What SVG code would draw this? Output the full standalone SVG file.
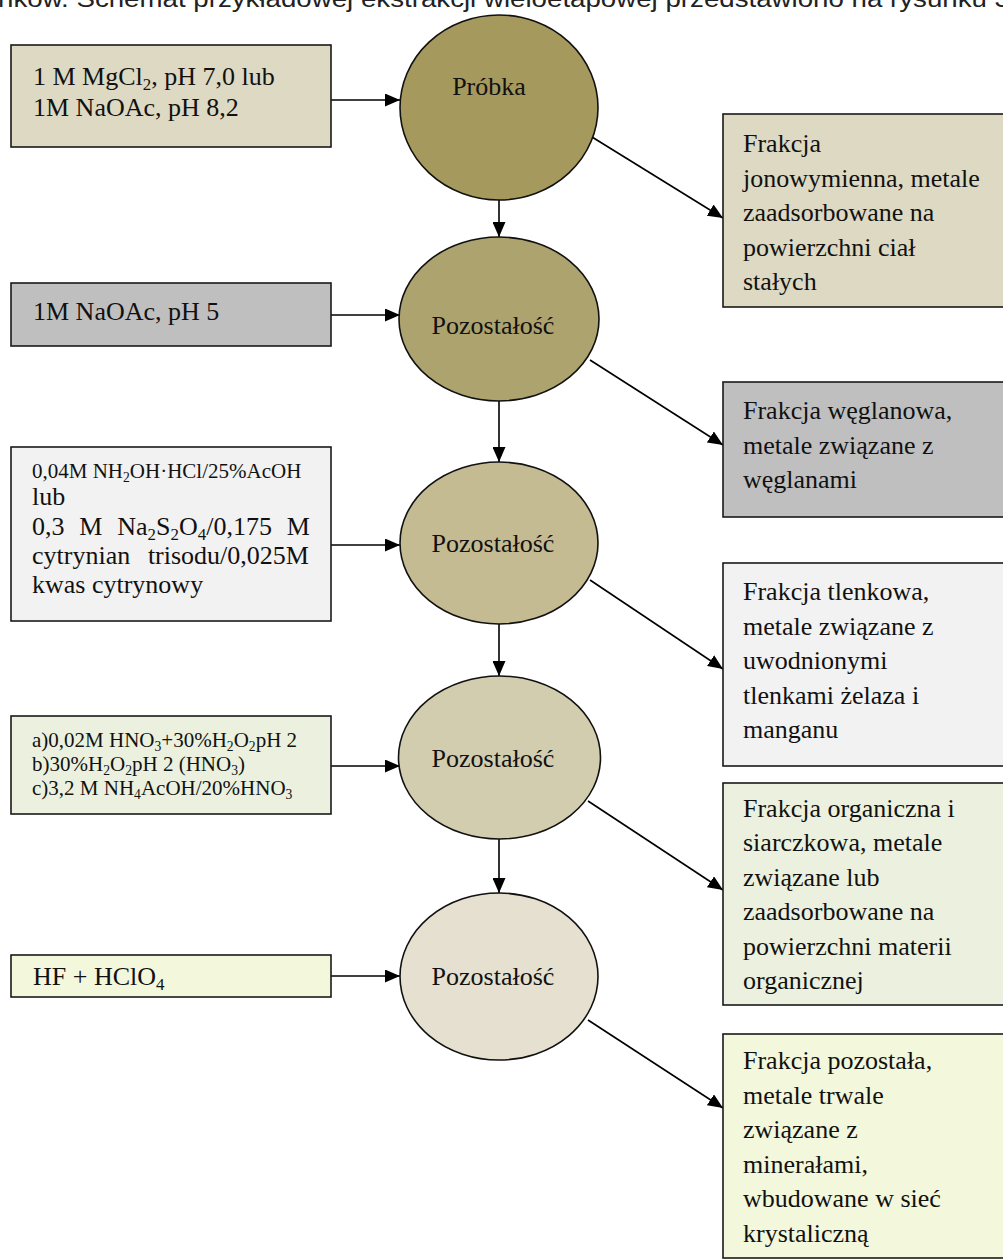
<svg xmlns="http://www.w3.org/2000/svg" width="1003" height="1260" viewBox="0 0 1003 1260">
  <defs>
    <marker id="arrow" markerUnits="userSpaceOnUse" markerWidth="15" markerHeight="13" refX="15" refY="6.5" orient="auto">
      <path d="M0,0 L15,6.5 L0,13 z" fill="#000"/>
    </marker>
    <style>
      .box { stroke: #1a1a1a; stroke-width: 1.6; }
      .oval { stroke: #111; stroke-width: 1.6; }
      .t { font-family: "Liberation Serif", "Times New Roman", serif; font-size: 26px; fill: #111; }
      .s { font-family: "Liberation Serif", "Times New Roman", serif; font-size: 21px; fill: #111; }
      .sub { font-size: 0.65em; }
      .c { text-anchor: middle; }
      .link { stroke: #000; stroke-width: 1.6; fill: none; marker-end: url(#arrow); }
      .f1 { fill: #ddd9c3; }
      .f2 { fill: #bfbfbf; }
      .f3 { fill: #f2f2f2; }
      .f4 { fill: #ebf1de; }
      .f5 { fill: #f3f7dc; }
    </style>
  </defs>

  <rect width="1003" height="1260" fill="#ffffff"/>

  <!-- running text line cut at the top edge -->
  <text x="-2" y="7" font-family="'Liberation Sans', Arial, sans-serif" font-size="23" fill="#222" textLength="1012" lengthAdjust="spacingAndGlyphs">nków. Schemat przykładowej ekstrakcji wieloetapowej przedstawiono na rysunku 3</text>

  <!-- connectors -->
  <g id="connectors">
    <line class="link" x1="331" y1="100" x2="400" y2="100"/>
    <line class="link" x1="331" y1="315" x2="400" y2="315"/>
    <line class="link" x1="331" y1="545" x2="400" y2="545"/>
    <line class="link" x1="331" y1="766" x2="400" y2="766"/>
    <line class="link" x1="331" y1="976" x2="400" y2="976"/>

    <line class="link" x1="499" y1="200" x2="499" y2="237"/>
    <line class="link" x1="499" y1="401" x2="499" y2="462"/>
    <line class="link" x1="499" y1="624" x2="499" y2="676"/>
    <line class="link" x1="499" y1="839" x2="499" y2="893"/>

    <line class="link" x1="592" y1="137" x2="723" y2="218"/>
    <line class="link" x1="590" y1="360" x2="723" y2="445"/>
    <line class="link" x1="590" y1="580" x2="723" y2="669"/>
    <line class="link" x1="588" y1="801" x2="723" y2="890"/>
    <line class="link" x1="588" y1="1020" x2="723" y2="1108"/>
  </g>

  <!-- reagent boxes -->
  <g id="reagent1">
    <rect class="box f1" x="11" y="45" width="320" height="102"/>
    <text class="t" x="33" y="85">1 M MgCl<tspan class="sub" dy="5">2</tspan><tspan dy="-5">, pH 7,0 lub</tspan></text>
    <text class="t" x="33" y="116">1M NaOAc, pH 8,2</text>
  </g>
  <g id="reagent2">
    <rect class="box f2" x="11" y="283" width="320" height="63"/>
    <text class="t" x="33" y="320">1M NaOAc, pH 5</text>
  </g>
  <g id="reagent3">
    <rect class="box f3" x="11" y="447" width="320" height="174"/>
    <text class="s" x="32" y="478">0,04M NH<tspan class="sub" dy="4">2</tspan><tspan dy="-4">OH·HCl/25%AcOH</tspan></text>
    <text class="t" x="32" y="505">lub</text>
    <!-- justified lines: widened word gaps -->
    <text class="t" x="32" y="535" word-spacing="8.3">0,3 M Na<tspan class="sub" dy="5">2</tspan><tspan dy="-5">S</tspan><tspan class="sub" dy="5">2</tspan><tspan dy="-5">O</tspan><tspan class="sub" dy="5">4</tspan><tspan dy="-5">/0,175 M</tspan></text>
    <text class="t" x="32" y="564" word-spacing="11.2">cytrynian trisodu/0,025M</text>
    <text class="t" x="32" y="593">kwas cytrynowy</text>
  </g>
  <g id="reagent4">
    <rect class="box f4" x="11" y="716" width="320" height="98"/>
    <text class="s" x="32" y="747">a)0,02M HNO<tspan class="sub" dy="4">3</tspan><tspan dy="-4">+30%H</tspan><tspan class="sub" dy="4">2</tspan><tspan dy="-4">O</tspan><tspan class="sub" dy="4">2</tspan><tspan dy="-4">pH 2</tspan></text>
    <text class="s" x="32" y="771">b)30%H<tspan class="sub" dy="4">2</tspan><tspan dy="-4">O</tspan><tspan class="sub" dy="4">2</tspan><tspan dy="-4">pH 2 (HNO</tspan><tspan class="sub" dy="4">3</tspan><tspan dy="-4">)</tspan></text>
    <text class="s" x="32" y="795">c)3,2 M NH<tspan class="sub" dy="4">4</tspan><tspan dy="-4">AcOH/20%HNO</tspan><tspan class="sub" dy="4">3</tspan></text>
  </g>
  <g id="reagent5">
    <rect class="box f5" x="11" y="955" width="320" height="42"/>
    <text class="t" x="33" y="985">HF + HClO<tspan class="sub" dy="5">4</tspan></text>
  </g>

  <!-- sample / residue ovals -->
  <g id="sample">
    <ellipse class="oval" cx="499" cy="107.5" rx="99" ry="92.5" fill="#a5995e"/>
    <text class="t c" x="489" y="95">Próbka</text>
  </g>
  <g id="residue1">
    <ellipse class="oval" cx="499" cy="319" rx="100" ry="82" fill="#ada36f"/>
    <text class="t c" x="493" y="334">Pozostałość</text>
  </g>
  <g id="residue2">
    <ellipse class="oval" cx="499" cy="543" rx="99" ry="81" fill="#c4bb93"/>
    <text class="t c" x="493" y="552">Pozostałość</text>
  </g>
  <g id="residue3">
    <ellipse class="oval" cx="499.5" cy="757.5" rx="101" ry="81.5" fill="#d3cdb0"/>
    <text class="t c" x="493" y="767">Pozostałość</text>
  </g>
  <g id="residue4">
    <ellipse class="oval" cx="499" cy="976.5" rx="99" ry="83.5" fill="#e5e0d0"/>
    <text class="t c" x="493" y="985">Pozostałość</text>
  </g>

  <!-- fraction boxes -->
  <g id="fraction1">
    <rect class="box f1" x="723" y="114" width="300" height="193"/>
    <text class="t" x="743" y="152">Frakcja</text>
    <text class="t" x="743" y="187">jonowymienna, metale</text>
    <text class="t" x="743" y="221">zaadsorbowane na</text>
    <text class="t" x="743" y="256">powierzchni ciał</text>
    <text class="t" x="743" y="290">stałych</text>
  </g>
  <g id="fraction2">
    <rect class="box f2" x="723" y="382" width="300" height="135"/>
    <text class="t" x="743" y="419">Frakcja węglanowa,</text>
    <text class="t" x="743" y="454">metale związane z</text>
    <text class="t" x="743" y="488">węglanami</text>
  </g>
  <g id="fraction3">
    <rect class="box f3" x="723" y="563" width="300" height="203"/>
    <text class="t" x="743" y="600">Frakcja tlenkowa,</text>
    <text class="t" x="743" y="635">metale związane z</text>
    <text class="t" x="743" y="669">uwodnionymi</text>
    <text class="t" x="743" y="704">tlenkami żelaza i</text>
    <text class="t" x="743" y="738">manganu</text>
  </g>
  <g id="fraction4">
    <rect class="box f4" x="723" y="783" width="300" height="222"/>
    <text class="t" x="743" y="817">Frakcja organiczna i</text>
    <text class="t" x="743" y="851">siarczkowa, metale</text>
    <text class="t" x="743" y="886">związane lub</text>
    <text class="t" x="743" y="920">zaadsorbowane na</text>
    <text class="t" x="743" y="955">powierzchni materii</text>
    <text class="t" x="743" y="989">organicznej</text>
  </g>
  <g id="fraction5">
    <rect class="box f5" x="723" y="1034" width="300" height="224"/>
    <text class="t" x="743" y="1069">Frakcja pozostała,</text>
    <text class="t" x="743" y="1104">metale trwale</text>
    <text class="t" x="743" y="1138">związane z</text>
    <text class="t" x="743" y="1173">minerałami,</text>
    <text class="t" x="743" y="1207">wbudowane w sieć</text>
    <text class="t" x="743" y="1242">krystaliczną</text>
  </g>
</svg>
